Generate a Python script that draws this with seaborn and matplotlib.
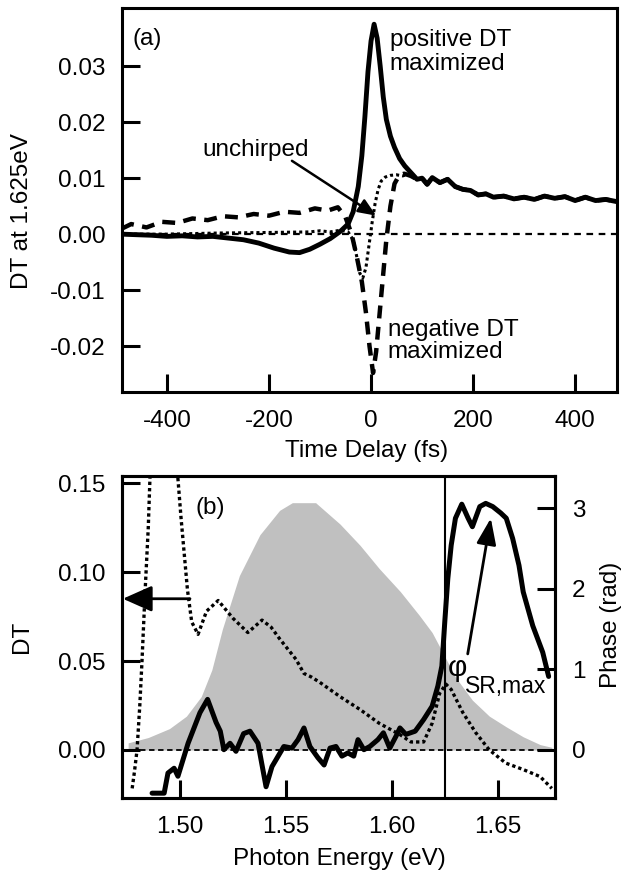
import numpy as np
import pandas as pd
import seaborn as sns
import matplotlib.pyplot as plt
from matplotlib.ticker import FormatStrFormatter

# ---- panel (a) : DT at 1.625 eV vs time delay ----
# common noisy tail where all three traces overlap (t >= 90 fs)
tail_t = [90, 100, 110, 120, 135, 150, 165, 180, 195, 210, 225, 240, 260, 280,
          300, 320, 340, 360, 380, 400, 420, 440, 460, 482]
tail_v = [0.0098, 0.0100, 0.0089, 0.0101, 0.0092, 0.0098, 0.0085, 0.0080, 0.0078,
          0.0070, 0.0072, 0.0066, 0.0068, 0.0063, 0.0066, 0.0062, 0.0068, 0.0064,
          0.0067, 0.0060, 0.0066, 0.0060, 0.0062, 0.0058]

pos_t = [-488, -460, -430, -400, -370, -340, -310, -280, -250, -220, -190, -160,
         -140, -120, -100, -80, -60, -45, -35, -25, -18, -12, -6, 0, 6, 12, 18, 24,
         30, 38, 46, 56, 66, 78]
pos_v = [0.0000, -0.0001, -0.0002, -0.0004, -0.0003, -0.0005, -0.0004, -0.0007,
         -0.0010, -0.0016, -0.0025, -0.0032, -0.0033, -0.0027, -0.0018, -0.0008,
         0.0005, 0.0018, 0.0040, 0.0085, 0.0140, 0.0210, 0.0290, 0.0345, 0.0375,
         0.0350, 0.0300, 0.0245, 0.0205, 0.0175, 0.0155, 0.0135, 0.0122, 0.0110]

neg_t = [-488, -470, -440, -410, -380, -350, -320, -290, -260, -230, -200, -170,
         -140, -110, -85, -65, -50, -38, -28, -18, -10, -3, 4, 10, 16, 22, 30, 38,
         46, 55, 65, 78]
neg_v = [0.0010, 0.0018, 0.0012, 0.0022, 0.0020, 0.0028, 0.0025, 0.0032, 0.0030,
         0.0036, 0.0033, 0.0040, 0.0038, 0.0046, 0.0042, 0.0048, 0.0030, 0.0000,
         -0.0040, -0.0085, -0.0140, -0.0200, -0.0248, -0.0210, -0.0150, -0.0090,
         -0.0010, 0.0050, 0.0090, 0.0105, 0.0108, 0.0104]

unch_t = [-488, -400, -300, -200, -120, -100, -80, -60, -45, -35, -28, -22, -16,
          -10, -4, 2, 8, 14, 20, 28, 38, 50, 62, 75]
unch_v = [0.0000, 0.0000, 0.0002, 0.0003, 0.0004, 0.0006, 0.0004, 0.0007, 0.0004,
          -0.0010, -0.0040, -0.0070, -0.0078, -0.0060, -0.0020, 0.0020, 0.0055,
          0.0080, 0.0095, 0.0102, 0.0105, 0.0106, 0.0104, 0.0108]

# ---- panel (b) : spectrum, DT spectrum and phase ----
spec_e = [1.4755, 1.485, 1.495, 1.503, 1.510, 1.515, 1.520, 1.528, 1.5377, 1.547,
          1.553, 1.564, 1.5755, 1.585, 1.594, 1.604, 1.613, 1.619, 1.623, 1.630,
          1.638, 1.646, 1.654, 1.662, 1.670, 1.6755]
spec_v = [0.004, 0.007, 0.012, 0.019, 0.030, 0.045, 0.068, 0.098, 0.121, 0.1347,
          0.139, 0.139, 0.127, 0.115, 0.102, 0.089, 0.0756, 0.066, 0.057, 0.041,
          0.028, 0.019, 0.013, 0.0074, 0.003, 0.0015]

dt_left_e = [1.4774, 1.4785, 1.4797, 1.481, 1.482, 1.4835, 1.485, 1.486]
dt_left_v = [-0.0216, -0.012, 0.0, 0.025, 0.049, 0.089, 0.125, 0.16]
dt_e = [1.4985, 1.5005, 1.502, 1.5035, 1.5055, 1.5085, 1.5125, 1.518, 1.525, 1.532,
        1.5387, 1.543, 1.547, 1.5547, 1.5585, 1.562, 1.566, 1.5755, 1.585, 1.594,
        1.604, 1.609, 1.615, 1.619, 1.6226, 1.6255, 1.628, 1.6335, 1.6396, 1.646,
        1.6538, 1.662, 1.670, 1.6755]
dt_v = [0.16, 0.13, 0.11, 0.09, 0.072, 0.065, 0.078, 0.084, 0.074, 0.066, 0.073,
        0.069, 0.0625, 0.051, 0.043, 0.041, 0.038, 0.030, 0.0227, 0.015, 0.0085,
        0.0045, 0.0045, 0.015, 0.032, 0.037, 0.034, 0.021, 0.0097, 0.0, -0.0074,
        -0.011, -0.015, -0.0216]

phase_e = [1.4868, 1.4925, 1.4943, 1.4972, 1.499, 1.5038, 1.5094, 1.513, 1.517,
           1.519, 1.5207, 1.5236, 1.5264, 1.530, 1.533, 1.5368, 1.5406, 1.5434,
           1.549, 1.5528, 1.5557, 1.5585, 1.5613, 1.5651, 1.568, 1.5708, 1.5736,
           1.5764, 1.5792, 1.582, 1.584, 1.5868, 1.5896, 1.5934, 1.596, 1.599,
           1.602, 1.6038, 1.6066, 1.611, 1.615, 1.619, 1.6217, 1.6236, 1.625,
           1.6264, 1.628, 1.630, 1.633, 1.636, 1.638, 1.6415, 1.6443, 1.6476,
           1.6514, 1.654, 1.657, 1.660, 1.662, 1.6665, 1.6712, 1.674]
phase_v = [-0.54, -0.54, -0.29, -0.23, -0.33, 0.08, 0.46, 0.625, 0.34, 0.23, 0.0,
           0.08, -0.02, 0.2, 0.23, 0.08, -0.46, -0.21, 0.04, 0.02, 0.125, 0.27,
           0.04, -0.1, -0.19, 0.02, 0.04, -0.08, -0.04, -0.08, 0.125, 0.0, 0.04,
           0.125, 0.21, 0.02, 0.17, 0.27, 0.19, 0.23, 0.375, 0.54, 0.79, 1.04, 1.6,
           2.125, 2.54, 2.875, 3.05, 2.875, 2.77, 3.02, 3.06, 3.02, 2.94, 2.875,
           2.625, 2.29, 1.96, 1.54, 1.21, 0.91]

sns.set_style('ticks', rc={'axes.edgecolor': 'black', 'text.color': 'black',
                           'axes.labelcolor': 'black', 'xtick.color': 'black',
                           'ytick.color': 'black'})
plt.rcParams['font.family'] = ['Liberation Sans', 'DejaVu Sans']
plt.rcParams['axes.unicode_minus'] = False

FS = 17.5
W, H = 623, 876
fig = plt.figure(figsize=(W / 100, H / 100), dpi=100)
ax_a = fig.add_axes([122 / W, 1 - 392 / H, (617 - 122) / W, (392 - 8) / H])
ax_b = fig.add_axes([122 / W, 1 - 798 / H, (555 - 122) / W, (798 - 476) / H])

pos_df = pd.DataFrame({'t': pos_t + tail_t, 'dt': pos_v + tail_v})
neg_df = pd.DataFrame({'t': neg_t + tail_t, 'dt': neg_v + tail_v})
unch_df = pd.DataFrame({'t': unch_t + tail_t, 'dt': unch_v + tail_v})

ax_a.axhline(0, color='k', lw=1.6, ls=(0, (3, 2.5)), zorder=1)
sns.lineplot(data=unch_df, x='t', y='dt', ax=ax_a, color='k', lw=2.2,
             ls=(0, (1, 1)), estimator=None, sort=False)
sns.lineplot(data=neg_df, x='t', y='dt', ax=ax_a, color='k', lw=3.2,
             ls=(0, (2.9, 1.9)), estimator=None, sort=False)
sns.lineplot(data=pos_df, x='t', y='dt', ax=ax_a, color='k', lw=3.5,
             estimator=None, sort=False)

ax_a.set_xlim(-488, 482)
ax_a.set_ylim(-0.0282, 0.0404)
ax_a.set_xticks([-400, -200, 0, 200, 400])
ax_a.set_yticks([-0.02, -0.01, 0.0, 0.01, 0.02, 0.03])
ax_a.yaxis.set_major_formatter(FormatStrFormatter('%.2f'))
ax_a.set_xlabel('')
ax_a.set_ylabel('')

ax_a.text(-467, 0.0348, '(a)', fontsize=FS, ha='left', va='center')
ax_a.text(37, 0.0325, 'positive DT\nmaximized', fontsize=FS, ha='left',
          va='center', linespacing=1.15)
ax_a.text(33, -0.0191, 'negative DT\nmaximized', fontsize=FS, ha='left',
          va='center', linespacing=1.05)
ax_a.text(-227, 0.0150, 'unchirped', fontsize=FS, ha='center', va='center')
ax_a.annotate('', xy=(10, 0.0033), xytext=(-155, 0.0131),
              arrowprops=dict(arrowstyle='-|>,head_length=0.6,head_width=0.25',
                              color='k', lw=1.8, mutation_scale=18,
                              shrinkA=0, shrinkB=0))

# panel (b)
ax_b.fill_between(spec_e, 0, spec_v, color='#c0c0c0', lw=0, zorder=0)
ax_b.axhline(0, color='k', lw=1.3, ls=(0, (3, 2)), zorder=1)
ax_b.axvline(1.625, color='k', lw=1.5)
sns.lineplot(x=dt_left_e, y=dt_left_v, ax=ax_b, color='k', lw=2.4,
             ls=(0, (1, 0.9)), estimator=None, sort=False)
sns.lineplot(x=dt_e, y=dt_v, ax=ax_b, color='k', lw=2.4,
             ls=(0, (1, 0.9)), estimator=None, sort=False)

ax_b.set_xlim(1.4726, 1.677)
ax_b.set_ylim(-0.027, 0.154)
ax_b.set_xticks([1.50, 1.55, 1.60, 1.65])
ax_b.set_yticks([0.0, 0.05, 0.10, 0.15])
ax_b.xaxis.set_major_formatter(FormatStrFormatter('%.2f'))
ax_b.yaxis.set_major_formatter(FormatStrFormatter('%.2f'))
ax_b.text(1.5075, 0.136, '(b)', fontsize=FS, ha='left', va='center')
ax_b.annotate('', xy=(1.4730, 0.085), xytext=(1.5047, 0.085),
              arrowprops=dict(arrowstyle='-|>,head_length=0.9,head_width=0.4',
                              color='k', lw=2.0, mutation_scale=20,
                              shrinkA=0, shrinkB=0))

ax_b2 = ax_b.twinx()
sns.lineplot(x=phase_e, y=phase_v, ax=ax_b2, color='k', lw=3.6,
             estimator=None, sort=False)
ax_b2.set_ylim(-0.6, 3.4)
ax_b2.set_yticks([0, 1, 2, 3])
ax_b2.set_ylabel('')
ax_b2.annotate('', xy=(1.6467, 2.875), xytext=(1.6358, 1.19),
               arrowprops=dict(arrowstyle='-|>,head_length=0.8,head_width=0.3',
                               color='k', lw=2.0, mutation_scale=20,
                               shrinkA=0, shrinkB=0))
# phi with its subscript as two plain texts
ax_b2.text(1.6262, 1.02, 'φ', fontsize=FS + 4, ha='left', va='center')
ax_b2.text(1.6347, 0.78, 'SR,max', fontsize=FS - 1, ha='left', va='center')

for ax in [ax_a, ax_b, ax_b2]:
    for sp in ax.spines.values():
        sp.set_linewidth(2.2)
    ax.tick_params(direction='in', length=13, width=2.2, labelsize=FS, pad=12)
    ax.tick_params(axis='x', pad=13)

fig.text(22 / W, 1 - 211 / H, 'DT at 1.625eV', rotation=90, ha='center',
         va='center', fontsize=FS)
fig.text(367 / W, 1 - 451 / H, 'Time Delay (fs)', ha='center', va='center',
         fontsize=FS)
fig.text(22 / W, 1 - 637 / H, 'DT', rotation=90, ha='center', va='center',
         fontsize=FS)
fig.text(611 / W, 1 - 625 / H, 'Phase (rad)', rotation=90, ha='center',
         va='center', fontsize=FS)
fig.text(339 / W, 1 - 859 / H, 'Photon Energy (eV)', ha='center', va='center',
         fontsize=FS)

fig.savefig('out.png', dpi=100)
